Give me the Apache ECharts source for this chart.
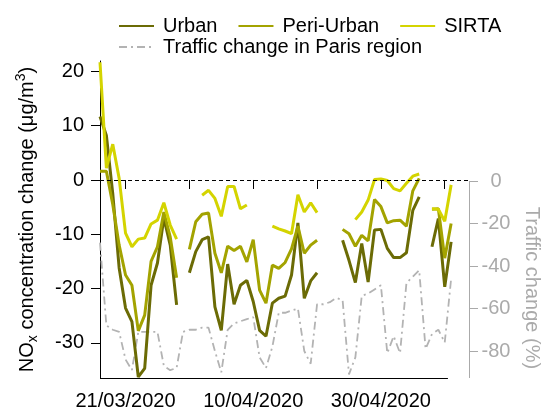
<!DOCTYPE html>
<html>
<head>
<meta charset="utf-8">
<script src="https://cdn.jsdelivr.net/npm/echarts@6/dist/echarts.min.js"></script>
<style>
  html, body { margin: 0; padding: 0; background: #fff; }
  #chart { width: 544px; height: 412px; }
</style>
</head>
<body>
<div id="chart"></div>
<script>
// one value per day, day 0 = 17/03/2020 ... day 55 = 11/05/2020, null = no data
const urban = [11.7, 8.2, -2.5, -16.2, -23.6, -26.1, -36.3, -34.7, -19.4, -15.3, -7, -12, -23, null,
  -17.1, -13.2, -11, -10.5, -23.4, -27.7, -15.5, -22.9, -19.4, -18.5, -22.4, -27.7, -28.8, -22.7, -21.8,
  -21.4, -17.5, -7.9, -21.8, -18.6, -17.1, null, null, null,
  -11.1, -14.8, -18.9, -11.7, -18.8, -9.2, -9.1, -12.6, -14.3, -14.3, -13.4, -5.6, -3.1, null,
  -12.3, -7.1, -19.7, -11.4];
const periUrban = [1.6, 1.6, -4.5, -12, -17.5, -19.4, -27.8, -24.9, -15, -12.3, -5.9, -10.5, -18, null,
  -12.8, -7.7, -6.3, -6.1, -13.5, -17.1, -12.2, -13, -12.2, -15.1, -11, -20.3, -22.7, -15.7, -16.3,
  -15.2, -12.7, -8.5, -13.5, -12, -11.1, null, null, null,
  -9.1, -9.9, -12.2, -10.2, -11.2, -3.6, -4.9, -7.9, -7.5, -7.4, -8.5, -2, 0.3, null,
  -5.4, -5.3, -14.4, -8];
const sirta = [21.7, 2.2, 6.6, 0.3, -9.8, -12.3, -10.9, -10.7, -8.1, -7.4, -4.2, -8.3, -10.9, null,
  null, null, -2.8, -1.9, -3.4, -6.7, -1.2, -1.2, -5.3, -4.6, null, null, null, -8.5, -9,
  -9.4, -9.9, -2.7, -5.9, -4.2, -6, null, null, null,
  null, null, -7.3, -5.9, -3.7, 0.1, 0.2, -0.1, -1.6, -2, -0.6, 0.7, 1.1, null,
  -5.3, -5.4, -7.6, -0.9];
const traffic = [-29, -68, -70, -71, -84, -89, -71, -71, -71, -71, -87, -89, -88, -71,
  -70, -70, -69, -69, -80, -90, -70, -67, -66, -65, -64, -83, -88, -78, -62,
  -62, -61, -60, -80, -86, -58, -58, -57, -55,
  -56, -91, -83, -54, -53, -51, -49, -81, -73, -81, -48, -45, -42, -79,
  -72, -70, -76, -46];

const tickDays = [4, 14, 24, 34, 44, 54];
const tickLabels = ['21/03/2020', '', '10/04/2020', '', '30/04/2020', ''];
const concTicks = [-30, -20, -10, 0, 10, 20];
const trafficTicks = [0, -20, -40, -60, -80];

const font = 'Liberation Sans, Arial, sans-serif';
const xMax = 57.8;
const concMin = -36.49, concMax = 21.93;
const trafMin = -92.7, trafMax = 56.5;

function toPoints(arr) {
  return arr.map((v, i) => [i, v]);
}

const legendText = { fontSize: 20, color: '#000', fontFamily: font, padding: [0, 0, 0, 4] };

const chart = echarts.init(document.getElementById('chart'));
chart.setOption({
  animation: false,
  textStyle: { fontFamily: font },
  grid: { left: 100, right: 75, top: 61, bottom: 34 },
  legend: [
    {
      data: ['Urban', 'Peri-Urban', 'SIRTA'],
      left: 113, top: 11,
      itemWidth: 35, itemHeight: 14, itemGap: 20,
      itemStyle: { opacity: 0 },
      textStyle: legendText
    },
    {
      data: ['Traffic change in Paris region'],
      left: 113, top: 32,
      itemWidth: 35, itemHeight: 14,
      itemStyle: { opacity: 0 },
      textStyle: legendText
    }
  ],
  xAxis: {
    type: 'value',
    min: 0,
    max: xMax,
    axisLine: { show: false },
    splitLine: { show: false },
    axisTick: { customValues: tickDays, length: 9, lineStyle: { color: '#000' } },
    axisLabel: {
      customValues: [4, 24, 44],
      formatter: v => tickLabels[tickDays.indexOf(v)],
      fontSize: 20, color: '#000', margin: 13, fontFamily: font
    }
  },
  yAxis: [
    {
      type: 'value',
      min: concMin,
      max: concMax,
      splitLine: { show: false },
      axisLine: { show: true, lineStyle: { color: '#000' } },
      axisTick: { customValues: concTicks, length: 9, lineStyle: { color: '#000' } },
      axisLabel: { customValues: concTicks, fontSize: 20, color: '#000', margin: 16, fontFamily: font },
      name: '{n|NO}{sub|x}{n| concentration change (μg/m}{sup|3}{n|)}',
      nameLocation: 'middle',
      nameRotate: 90,
      nameGap: 60,
      nameTextStyle: {
        rich: {
          n: { fontSize: 20, color: '#000', fontFamily: font, lineHeight: 26 },
          sub: { fontSize: 14, color: '#000', fontFamily: font, verticalAlign: 'bottom' },
          sup: { fontSize: 14, color: '#000', fontFamily: font, verticalAlign: 'top' }
        }
      }
    },
    {
      type: 'value',
      position: 'right',
      min: trafMin,
      max: trafMax,
      splitLine: { show: false },
      axisLine: { show: false },
      axisTick: { customValues: trafficTicks, length: 9, lineStyle: { color: '#aaa' } },
      axisLabel: { customValues: trafficTicks, fontSize: 20, color: '#aaa', align: 'center', margin: 27, fontFamily: font }
    }
  ],
  graphic: [
    {
      type: 'text',
      x: 532, y: 288,
      rotation: -Math.PI / 2,
      style: {
        text: 'Traffic change (%)',
        x: 0, y: 0,
        textAlign: 'center', textVerticalAlign: 'middle',
        fontSize: 20, fontFamily: font, fill: '#aaa'
      }
    }
  ],
  series: [
    {
      name: 'Traffic change in Paris region',
      type: 'line',
      yAxisIndex: 1,
      data: toPoints(traffic),
      symbol: 'none',
      itemStyle: { color: '#b3b3b3' },
      lineStyle: { color: '#b3b3b3', width: 1.8, type: [8, 4, 2, 4] },
      markLine: {
        silent: true, symbol: 'none', label: { show: false },
        lineStyle: { color: '#aaa', width: 1, type: 'solid' },
        data: [[{ coord: [xMax, 0] }, { coord: [xMax, trafMin] }]]
      }
    },
    {
      name: 'Urban',
      type: 'line',
      data: toPoints(urban),
      symbol: 'none',
      itemStyle: { color: '#6b6b05' },
      lineStyle: { color: '#6b6b05', width: 3 },
      markLine: {
        silent: true, symbol: 'none', label: { show: false },
        data: [
          { yAxis: 0, lineStyle: { color: '#000', width: 1, type: [4, 3] } },
          [{ coord: [0, concMin], lineStyle: { color: '#000', width: 1, type: 'solid' } }, { coord: [54.5, concMin] }]
        ]
      }
    },
    {
      name: 'Peri-Urban',
      type: 'line',
      data: toPoints(periUrban),
      symbol: 'none',
      itemStyle: { color: '#a3a300' },
      lineStyle: { color: '#a3a300', width: 3 }
    },
    {
      name: 'SIRTA',
      type: 'line',
      data: toPoints(sirta),
      symbol: 'none',
      itemStyle: { color: '#d4d400' },
      lineStyle: { color: '#d4d400', width: 3 }
    }
  ]
});
</script>
</body>
</html>
